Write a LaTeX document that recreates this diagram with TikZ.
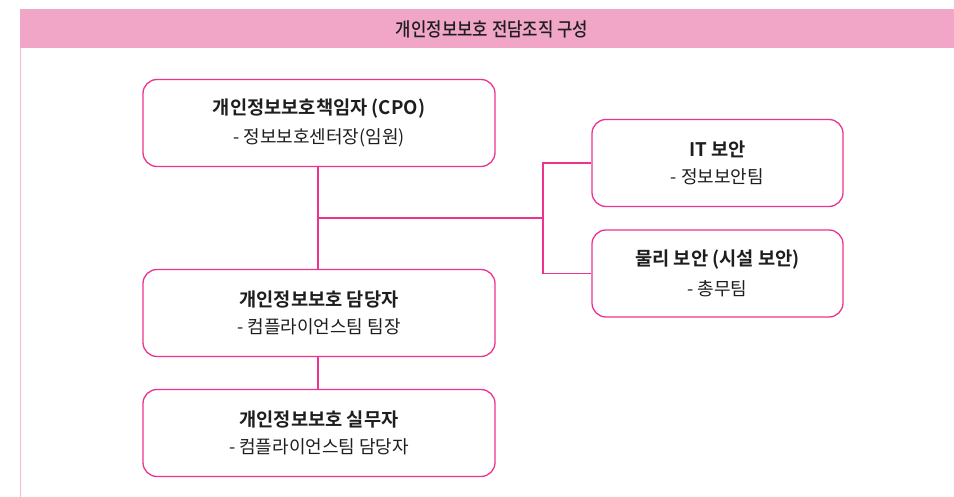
\documentclass[tikz,border=0pt]{standalone}
\usepackage{fontspec}
\setmainfont{Noto Sans CJK KR}
\newfontfamily\krbold{Noto Sans CJK KR Bold}
\newfontfamily\krmed{Noto Sans CJK KR Medium}
\definecolor{mag}{RGB}{236,52,143}
\definecolor{hdr}{RGB}{241,166,200}
\definecolor{edge}{RGB}{255,180,215}
\definecolor{txt}{RGB}{30,30,30}
\tikzset{
  orgbox/.style={draw=mag, line width=1.3pt, rounded corners=14pt, fill=white,
    minimum width=352pt, minimum height=87pt, align=center, inner sep=0pt, text=txt},
  sidebox/.style={orgbox, minimum width=251pt},
  link/.style={draw=mag, line width=1.3pt},
}
\newcommand{\ttl}[1]{{\krbold\fontsize{18.7}{22}\selectfont #1}}
\newcommand{\sbt}[1]{{\fontsize{18}{22}\selectfont #1}}
\begin{document}
\begin{tikzpicture}[x=1pt,y=-1pt]
\useasboundingbox (0,0) rectangle (954,497);
\fill[hdr] (20,9) rectangle (954,48);
\draw[edge, line width=1.2pt] (20.5,48) -- (20.5,497);
\node[text=txt] (head) at (492,29) {\scalebox{0.88}[1]{\krmed\fontsize{19}{20}\selectfont 개인정보보호 전담조직 구성}};

\node[orgbox] (cpo) at (319,123) {\ttl{개인정보보호책임자 (CPO)}\\[10pt]\sbt{- 정보보호센터장(임원)}};
\node[orgbox] (mgr) at (319,313) {\ttl{개인정보보호 담당자}\\[10pt]\sbt{- 컴플라이언스팀 팀장}};
\node[orgbox] (staff) at (319,433) {\ttl{개인정보보호 실무자}\\[10pt]\sbt{- 컴플라이언스팀 담당자}};
\node[sidebox] (it) at (717.5,163) {\ttl{IT 보안}\\[10pt]\sbt{- 정보보안팀}};
\node[sidebox] (phys) at (717.5,273.5) {\ttl{물리 보안 (시설 보안)}\\[10pt]\sbt{- 총무팀}};

\coordinate (j1) at (318,218);
\coordinate (j2) at (543,218);
\draw[link] (cpo.south -| j1) -- (mgr.north -| j1);
\draw[link] (mgr.south -| j1) -- (staff.north -| j1);
\draw[link] (j1) -- (j2);
\draw[link] (it.west) -| (j2) |- (phys.west);
\end{tikzpicture}
\end{document}
